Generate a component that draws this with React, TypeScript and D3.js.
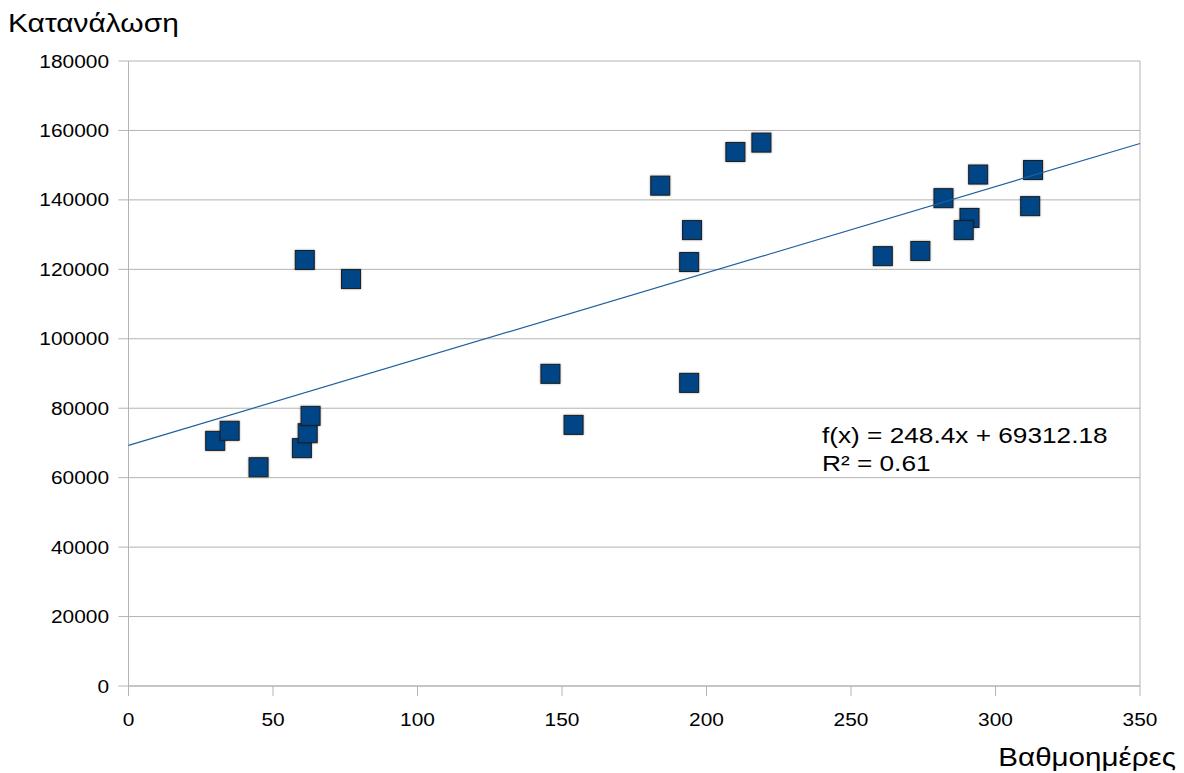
import React from "react";
import * as d3 from "d3";

// Degree days vs. consumption
const degreeDays = [30, 35, 45, 60, 62, 63, 61, 77, 146, 154, 194, 194, 195, 184, 210, 219, 261, 274, 282, 291, 289, 294, 313, 312];
const consumption = [70600, 73500, 63000, 68500, 72800, 77800, 122700, 117200, 89900, 75200, 87300, 122100, 131300, 144100, 153800, 156500, 123800, 125300, 140500, 134800, 131300, 147300, 148600, 138200];

const xTicks = [0, 50, 100, 150, 200, 250, 300, 350];
const yTicks = [0, 20000, 40000, 60000, 80000, 100000, 120000, 140000, 160000, 180000];

// Linear trend line coefficients
const slope = 248.4;
const intercept = 69312.18;
const rSquared = 0.61;

const W = 1184;
const H = 773;
const FONT = "'Liberation Sans', Arial, sans-serif";
const SX = 1.16;

function WideText({ x, y, size, anchor = "start", children }: { x: number; y: number; size: number; anchor?: string; children: React.ReactNode }) {
  return (
    <text
      transform={`translate(${x},${y}) scale(${SX},1)`}
      fontSize={size}
      fontFamily={FONT}
      textAnchor={anchor as any}
      fill="#000"
    >
      {children}
    </text>
  );
}

export default function App() {
  const x = d3.scaleLinear().domain([0, 350]).range([128.5, 1140]);
  const y = d3.scaleLinear().domain([0, 180000]).range([686, 61]);
  const half = 9.5;
  const lineX = [0, 350];

  return (
    <svg width={W} height={H} style={{ position: "absolute", left: 0, top: 0, background: "#fff" }}>
      {/* horizontal grid lines and y ticks */}
      {yTicks.map((t) => (
        <g key={"y" + t}>
          <line x1={x(0)} x2={x(350)} y1={y(t)} y2={y(t)} stroke="#b3b3b3" strokeWidth={t === 0 ? 1.5 : 1} />
          <line x1={x(0) - 10} x2={x(0)} y1={y(t)} y2={y(t)} stroke="#b3b3b3" />
          <WideText x={109} y={y(t) + 6.5} size={18} anchor="end">{t}</WideText>
        </g>
      ))}
      {/* x ticks */}
      {xTicks.map((t) => (
        <g key={"x" + t}>
          <line x1={x(t)} x2={x(t)} y1={y(0)} y2={y(0) + 10} stroke="#b3b3b3" />
          <WideText x={x(t)} y={726} size={18} anchor="middle">{t}</WideText>
        </g>
      ))}
      <line x1={x(0)} x2={x(0)} y1={y(180000)} y2={y(0)} stroke="#b3b3b3" />
      <line x1={x(350)} x2={x(350)} y1={y(180000)} y2={y(0)} stroke="#b3b3b3" />

      {/* data points */}
      {degreeDays.map((d, i) => (
        <rect
          key={i}
          x={x(d) - half}
          y={y(consumption[i]) - half}
          width={half * 2}
          height={half * 2}
          fill="#004586"
          stroke="#1c1c1c"
          strokeWidth={1}
          style={{ filter: "drop-shadow(0px 0px 1px rgba(0,0,0,0.35))" }}
        />
      ))}

      {/* trend line */}
      <line
        x1={x(lineX[0])}
        y1={y(slope * lineX[0] + intercept)}
        x2={x(lineX[1])}
        y2={y(slope * lineX[1] + intercept)}
        stroke="#1f5f9e"
        strokeWidth={1.2}
      />

      <WideText x={822} y={443} size={22.6}>{`f(x) = ${slope}x + ${intercept}`}</WideText>
      <WideText x={822} y={471} size={22.6}>{`R² = ${rSquared}`}</WideText>

      {/* axis titles */}
      <WideText x={8} y={32} size={25.8}>Κατανάλωση</WideText>
      <WideText x={1176} y={766} size={25.5} anchor="end">Βαθμοημέρες</WideText>
    </svg>
  );
}
